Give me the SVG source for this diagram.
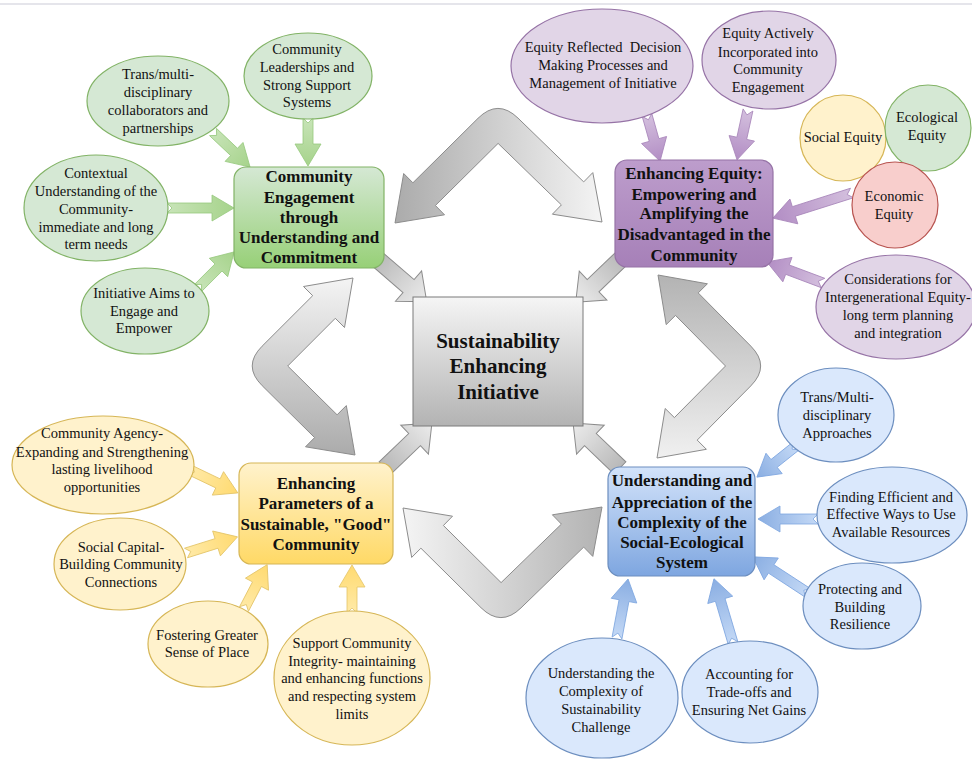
<svg xmlns="http://www.w3.org/2000/svg" width="972" height="760" viewBox="0 0 972 760">
  <defs>
    <linearGradient id="gBox" x1="0" y1="0" x2="0" y2="1"><stop offset="0" stop-color="#d5e8d4"/><stop offset="1" stop-color="#97d077"/></linearGradient>
    <linearGradient id="pBox" x1="0" y1="0" x2="0" y2="1"><stop offset="0" stop-color="#bd9dcc"/><stop offset="1" stop-color="#a680b8"/></linearGradient>
    <linearGradient id="yBox" x1="0" y1="0" x2="0" y2="1"><stop offset="0" stop-color="#fff2cc"/><stop offset="1" stop-color="#ffd966"/></linearGradient>
    <linearGradient id="bBox" x1="0" y1="0" x2="0" y2="1"><stop offset="0" stop-color="#d3e3fa"/><stop offset="1" stop-color="#7ea6e0"/></linearGradient>
    <linearGradient id="cBox" x1="0" y1="0" x2="0" y2="1"><stop offset="0" stop-color="#f5f5f5"/><stop offset="1" stop-color="#b3b3b3"/></linearGradient>
    <!-- arrow fills run from tail (x=0) to tip along the local axis -->
    <linearGradient id="gArr" x1="0" y1="0" x2="1" y2="0"><stop offset="0" stop-color="#c8e4b8"/><stop offset="1" stop-color="#a6d38b"/></linearGradient>
    <linearGradient id="pArr" x1="0" y1="0" x2="1" y2="0"><stop offset="0" stop-color="#d4c0de"/><stop offset="1" stop-color="#b28dc4"/></linearGradient>
    <linearGradient id="yArr" x1="0" y1="0" x2="1" y2="0"><stop offset="0" stop-color="#ffeaa8"/><stop offset="1" stop-color="#ffda70"/></linearGradient>
    <linearGradient id="bArr" x1="0" y1="0" x2="1" y2="0"><stop offset="0" stop-color="#c4d9f6"/><stop offset="1" stop-color="#8aaee2"/></linearGradient>
    <linearGradient id="sArr" x1="0" y1="0" x2="1" y2="0"><stop offset="0" stop-color="#b8b8b8"/><stop offset="1" stop-color="#ececec"/></linearGradient>
    <linearGradient id="bendT" x1="0" y1="0" x2="1" y2="0"><stop offset="0" stop-color="#ababab"/><stop offset="1" stop-color="#f4f4f4"/></linearGradient>
    <linearGradient id="bendR" x1="0" y1="0" x2="0" y2="1"><stop offset="0" stop-color="#b3b3b3"/><stop offset="1" stop-color="#f0f0f0"/></linearGradient>
    <linearGradient id="bendB" x1="0" y1="0" x2="1" y2="0"><stop offset="0" stop-color="#f4f4f4"/><stop offset="1" stop-color="#b3b3b3"/></linearGradient>
    <linearGradient id="bendL" x1="0" y1="0" x2="0" y2="1"><stop offset="0" stop-color="#f4f4f4"/><stop offset="1" stop-color="#ababab"/></linearGradient>
  </defs>
  <style>
    .t { font-family: "Liberation Serif", "Times New Roman", serif; font-size: 14.5px; fill: #111; text-anchor: middle; }
    .tb { font-family: "Liberation Serif", "Times New Roman", serif; font-size: 17px; font-weight: bold; fill: #111; text-anchor: middle; }
    .tc { font-family: "Liberation Serif", "Times New Roman", serif; font-size: 21px; font-weight: bold; fill: #111; text-anchor: middle; }
    .eg { fill: #d5e8d4; stroke: #82b366; stroke-width: 1.2; }
    .ep { fill: #e1d5e7; stroke: #9673a6; stroke-width: 1.2; }
    .ey { fill: #fff2cc; stroke: #d6b656; stroke-width: 1.2; }
    .eb { fill: #dae8fc; stroke: #6c8ebf; stroke-width: 1.2; }
    .er { fill: #f8cecc; stroke: #b85450; stroke-width: 1.2; }
    .ag { fill: url(#gArr); stroke: #97c97e; stroke-width: 0.8; }
    .ap { fill: url(#pArr); stroke: #a886ba; stroke-width: 0.8; }
    .ay { fill: url(#yArr); stroke: #e3c468; stroke-width: 0.8; }
    .ab { fill: url(#bArr); stroke: #7ea6e0; stroke-width: 0.8; }
    .as { fill: url(#sArr); stroke: #8c8c8c; stroke-width: 1; }
    .bend { stroke: #8c8c8c; stroke-width: 1; }
  </style>

  <rect width="972" height="760" fill="#ffffff"/>
  <line x1="0" y1="4" x2="972" y2="4" stroke="#dcdce4" stroke-width="1.5"/>

  <g id="connectors">
    <!-- bent double-headed arrows around the centre -->
    <path class="bend" fill="url(#bendT)" d="M498.1,143.4 L435.4,205.5 L444.5,214.8 L395,223 L403.7,173.5 L412.9,182.8 L478,118.3 Q497.9,98.6 518,118.1 L583.7,181.9 L592.8,172.6 L602,222 L552.4,214.2 L561.4,204.9 Z"/>
    <path class="bend" fill="url(#bendR)" d="M725.5,366 L675.5,315.4 L666.2,324.6 L658,275 L707.4,283.8 L698.2,292.9 L750.8,346.1 Q770.5,366 750.8,385.9 L697.2,440.1 L706.4,449.3 L657,458 L665.2,408.5 L674.4,417.6 Z"/>
    <path class="bend" fill="url(#bendB)" d="M501.1,582.6 L443.4,525.5 L452.5,516.2 L403,508 L411.7,557.4 L420.9,548.2 L481,607.7 Q500.9,627.4 521,607.9 L583.7,547.1 L592.8,556.4 L602,507 L552.4,514.8 L561.4,524.1 Z"/>
    <path class="bend" fill="url(#bendL)" d="M287.7,366 L335.3,318.3 L344.5,327.5 L353,278 L303.5,286.5 L312.7,295.7 L262.1,346.2 Q242.3,366 262.2,385.7 L314.6,437.6 L305.5,446.8 L355,455 L346.3,405.6 L337.1,414.8 Z"/>

    <!-- straight arrows into the centre -->
    <path class="as" transform="translate(376,258) rotate(40.8)" d="M0,-8.5 H43 V-20 L67,0 L43,20 V8.5 H0 Z"/>
    <path class="as" transform="translate(622,258) rotate(136.3)" d="M0,-8.5 H40 V-20 L64,0 L40,20 V8.5 H0 Z"/>
    <path class="as" transform="translate(385,468) rotate(-43.8)" d="M0,-8.5 H41 V-20 L65,0 L41,20 V8.5 H0 Z"/>
    <path class="as" transform="translate(620,468) rotate(-136.2)" d="M0,-8.5 H41 V-20 L65,0 L41,20 V8.5 H0 Z"/>

    <!-- green feeders -->
    <path class="ag" transform="translate(213,132) rotate(43.4)" d="M0,-5 H29 V-13 L51,0 L29,13 V5 H0 L5,0 Z"/>
    <path class="ag" transform="translate(308,118) rotate(90)" d="M0,-5 H26 V-13 L48,0 L26,13 V5 H0 L5,0 Z"/>
    <path class="ag" transform="translate(167,208) rotate(0)" d="M0,-5 H45 V-13 L67,0 L45,13 V5 H0 L5,0 Z"/>
    <path class="ag" transform="translate(198,288) rotate(-45)" d="M0,-5 H29 V-13 L51,0 L29,13 V5 H0 L5,0 Z"/>

    <!-- purple feeders -->
    <path class="ap" transform="translate(647,115) rotate(74.2)" d="M0,-5 H26 V-13 L48,0 L26,13 V5 H0 L5,0 Z"/>
    <path class="ap" transform="translate(748,110) rotate(102.4)" d="M0,-5 H29 V-13 L51,0 L29,13 V5 H0 L5,0 Z"/>
    <path class="ap" transform="translate(852,193) rotate(162.4)" d="M0,-5 H61 V-13 L83,0 L61,13 V5 H0 L5,0 Z"/>
    <path class="ap" transform="translate(823,283) rotate(-159.4)" d="M0,-5 H38 V-13 L60,0 L38,13 V5 H0 L5,0 Z"/>

    <!-- yellow feeders -->
    <path class="ay" transform="translate(190,470) rotate(25.6)" d="M0,-5 H31 V-13 L53,0 L31,13 V5 H0 L5,0 Z"/>
    <path class="ay" transform="translate(186,553) rotate(-17.4)" d="M0,-5 H32 V-13 L54,0 L32,13 V5 H0 L5,0 Z"/>
    <path class="ay" transform="translate(244,609) rotate(-62.4)" d="M0,-5 H28 V-13 L50,0 L28,13 V5 H0 L5,0 Z"/>
    <path class="ay" transform="translate(352,613) rotate(-90)" d="M0,-5 H26 V-13 L48,0 L26,13 V5 H0 L5,0 Z"/>

    <!-- blue feeders -->
    <path class="ab" transform="translate(796,446) rotate(141.5)" d="M0,-5 H28 V-13 L50,0 L28,13 V5 H0 L5,0 Z"/>
    <path class="ab" transform="translate(818,519) rotate(180)" d="M0,-5 H38 V-13 L60,0 L38,13 V5 H0 L5,0 Z"/>
    <path class="ab" transform="translate(808,593) rotate(-146.8)" d="M0,-5 H44 V-13 L66,0 L44,13 V5 H0 L5,0 Z"/>
    <path class="ab" transform="translate(617,638) rotate(-79.4)" d="M0,-5 H38 V-13 L60,0 L38,13 V5 H0 L5,0 Z"/>
    <path class="ab" transform="translate(733,643) rotate(-106.5)" d="M0,-5 H45 V-13 L67,0 L45,13 V5 H0 L5,0 Z"/>
  </g>

  <!-- centre -->
  <g id="centre">
    <rect x="413" y="297" width="170" height="129" fill="url(#cBox)" stroke="#7a7a7a" stroke-width="1"/>
    <text class="tc"><tspan x="498" y="348">Sustainability</tspan><tspan x="498" y="373">Enhancing</tspan><tspan x="498" y="399">Initiative</tspan></text>
  </g>

  <!-- community engagement cluster -->
  <g id="engagement">
    <rect x="234" y="167" width="150" height="101" rx="12" fill="url(#gBox)" stroke="#82b366" stroke-width="1.2"/>
    <text class="tb"><tspan x="309" y="182">Community</tspan><tspan x="309" y="203">Engagement</tspan><tspan x="309" y="223">through</tspan><tspan x="309" y="243">Understanding and</tspan><tspan x="309" y="263">Commitment</tspan></text>
  </g>
  <g id="g-partners">
    <ellipse class="eg" cx="158" cy="101" rx="71" ry="45"/>
    <text class="t"><tspan x="158" y="79">Trans/multi-</tspan><tspan x="158" y="97">disciplinary</tspan><tspan x="158" y="115">collaborators and</tspan><tspan x="158" y="133">partnerships</tspan></text>
  </g>
  <g id="g-leadership">
    <ellipse class="eg" cx="308" cy="76" rx="64" ry="43"/>
    <text class="t"><tspan x="307" y="54">Community</tspan><tspan x="307" y="72">Leaderships and</tspan><tspan x="307" y="90">Strong Support</tspan><tspan x="307" y="107">Systems</tspan></text>
  </g>
  <g id="g-context">
    <ellipse class="eg" cx="96" cy="208" rx="72" ry="53"/>
    <text class="t"><tspan x="96" y="178">Contextual</tspan><tspan x="96" y="196">Understanding of the</tspan><tspan x="96" y="214">Community-</tspan><tspan x="96" y="232">immediate and long</tspan><tspan x="96" y="249">term needs</tspan></text>
  </g>
  <g id="g-aims">
    <ellipse class="eg" cx="145" cy="311" rx="64" ry="43"/>
    <text class="t"><tspan x="144" y="298">Initiative Aims to</tspan><tspan x="144" y="316">Engage and</tspan><tspan x="144" y="333">Empower</tspan></text>
  </g>

  <!-- equity cluster -->
  <g id="equity">
    <rect x="615" y="160" width="158" height="107" rx="12" fill="url(#pBox)" stroke="#9673a6" stroke-width="1.2"/>
    <text class="tb"><tspan x="694" y="179">Enhancing Equity:</tspan><tspan x="694" y="200">Empowering and</tspan><tspan x="694" y="219">Amplifying the</tspan><tspan x="694" y="240">Disadvantaged in the</tspan><tspan x="694" y="261">Community</tspan></text>
  </g>
  <g id="p-decision">
    <ellipse class="ep" cx="602" cy="66" rx="91" ry="57"/>
    <text class="t" xml:space="preserve"><tspan x="603" y="52">Equity Reflected  Decision</tspan><tspan x="603" y="70">Making Processes and</tspan><tspan x="603" y="88">Management of Initiative</tspan></text>
  </g>
  <g id="p-engage">
    <ellipse class="ep" cx="769" cy="60" rx="67" ry="49"/>
    <text class="t"><tspan x="768" y="38">Equity Actively</tspan><tspan x="768" y="57">Incorporated into</tspan><tspan x="768" y="74">Community</tspan><tspan x="768" y="92">Engagement</tspan></text>
  </g>
  <g id="p-social">
    <circle class="ey" cx="843" cy="138" r="43"/>
    <text class="t"><tspan x="843" y="142">Social Equity</tspan></text>
  </g>
  <g id="p-ecological">
    <circle class="eg" cx="928" cy="128" r="43"/>
    <text class="t"><tspan x="927" y="122">Ecological</tspan><tspan x="927" y="140">Equity</tspan></text>
  </g>
  <g id="p-economic">
    <circle class="er" cx="895" cy="205" r="43"/>
    <text class="t"><tspan x="894" y="201">Economic</tspan><tspan x="894" y="219">Equity</tspan></text>
  </g>
  <g id="p-intergen">
    <ellipse class="ep" cx="896" cy="307" rx="80" ry="52"/>
    <text class="t"><tspan x="898" y="284">Considerations for</tspan><tspan x="898" y="302">Intergenerational Equity-</tspan><tspan x="898" y="320">long term planning</tspan><tspan x="898" y="338">and integration</tspan></text>
  </g>

  <!-- good community cluster -->
  <g id="community">
    <rect x="239" y="463" width="154" height="101" rx="12" fill="url(#yBox)" stroke="#d6b656" stroke-width="1.2"/>
    <text class="tb"><tspan x="316" y="489">Enhancing</tspan><tspan x="316" y="509">Parameters of a</tspan><tspan x="316" y="530">Sustainable, "Good"</tspan><tspan x="316" y="550">Community</tspan></text>
  </g>
  <g id="y-agency">
    <ellipse class="ey" cx="103" cy="465" rx="91" ry="49"/>
    <text class="t"><tspan x="102" y="438">Community Agency-</tspan><tspan x="102" y="457">Expanding and Strengthening</tspan><tspan x="102" y="474">lasting livelihood</tspan><tspan x="102" y="492">opportunities</tspan></text>
  </g>
  <g id="y-capital">
    <ellipse class="ey" cx="120" cy="564" rx="66" ry="46"/>
    <text class="t"><tspan x="121" y="552">Social Capital-</tspan><tspan x="121" y="569">Building Community</tspan><tspan x="121" y="587">Connections</tspan></text>
  </g>
  <g id="y-place">
    <ellipse class="ey" cx="208" cy="644" rx="60" ry="43"/>
    <text class="t"><tspan x="207" y="640">Fostering Greater</tspan><tspan x="207" y="657">Sense of Place</tspan></text>
  </g>
  <g id="y-integrity">
    <ellipse class="ey" cx="352" cy="678" rx="78" ry="67"/>
    <text class="t"><tspan x="352" y="648">Support Community</tspan><tspan x="352" y="666">Integrity- maintaining</tspan><tspan x="352" y="683">and enhancing functions</tspan><tspan x="352" y="701">and respecting system</tspan><tspan x="352" y="719">limits</tspan></text>
  </g>

  <!-- social-ecological cluster -->
  <g id="complexity">
    <rect x="608" y="467" width="147" height="109" rx="12" fill="url(#bBox)" stroke="#6c8ebf" stroke-width="1.2"/>
    <text class="tb"><tspan x="682" y="486">Understanding and</tspan><tspan x="682" y="508">Appreciation of the</tspan><tspan x="682" y="528">Complexity of the</tspan><tspan x="682" y="548">Social-Ecological</tspan><tspan x="682" y="568">System</tspan></text>
  </g>
  <g id="b-approaches">
    <ellipse class="eb" cx="836" cy="415" rx="58" ry="47"/>
    <text class="t"><tspan x="837" y="402">Trans/Multi-</tspan><tspan x="837" y="420">disciplinary</tspan><tspan x="837" y="438">Approaches</tspan></text>
  </g>
  <g id="b-resources">
    <ellipse class="eb" cx="892" cy="515" rx="75" ry="48"/>
    <text class="t"><tspan x="891" y="502">Finding Efficient and</tspan><tspan x="891" y="519">Effective Ways to Use</tspan><tspan x="891" y="537">Available Resources</tspan></text>
  </g>
  <g id="b-resilience">
    <ellipse class="eb" cx="862" cy="606" rx="59" ry="43"/>
    <text class="t"><tspan x="860" y="594">Protecting and</tspan><tspan x="860" y="612">Building</tspan><tspan x="860" y="629">Resilience</tspan></text>
  </g>
  <g id="b-challenge">
    <ellipse class="eb" cx="602" cy="698" rx="76" ry="60"/>
    <text class="t"><tspan x="601" y="678">Understanding the</tspan><tspan x="601" y="696">Complexity of</tspan><tspan x="601" y="714">Sustainability</tspan><tspan x="601" y="732">Challenge</tspan></text>
  </g>
  <g id="b-tradeoffs">
    <ellipse class="eb" cx="750" cy="692" rx="68" ry="51"/>
    <text class="t"><tspan x="749" y="679">Accounting for</tspan><tspan x="749" y="697">Trade-offs and</tspan><tspan x="749" y="715">Ensuring Net Gains</tspan></text>
  </g>
</svg>
